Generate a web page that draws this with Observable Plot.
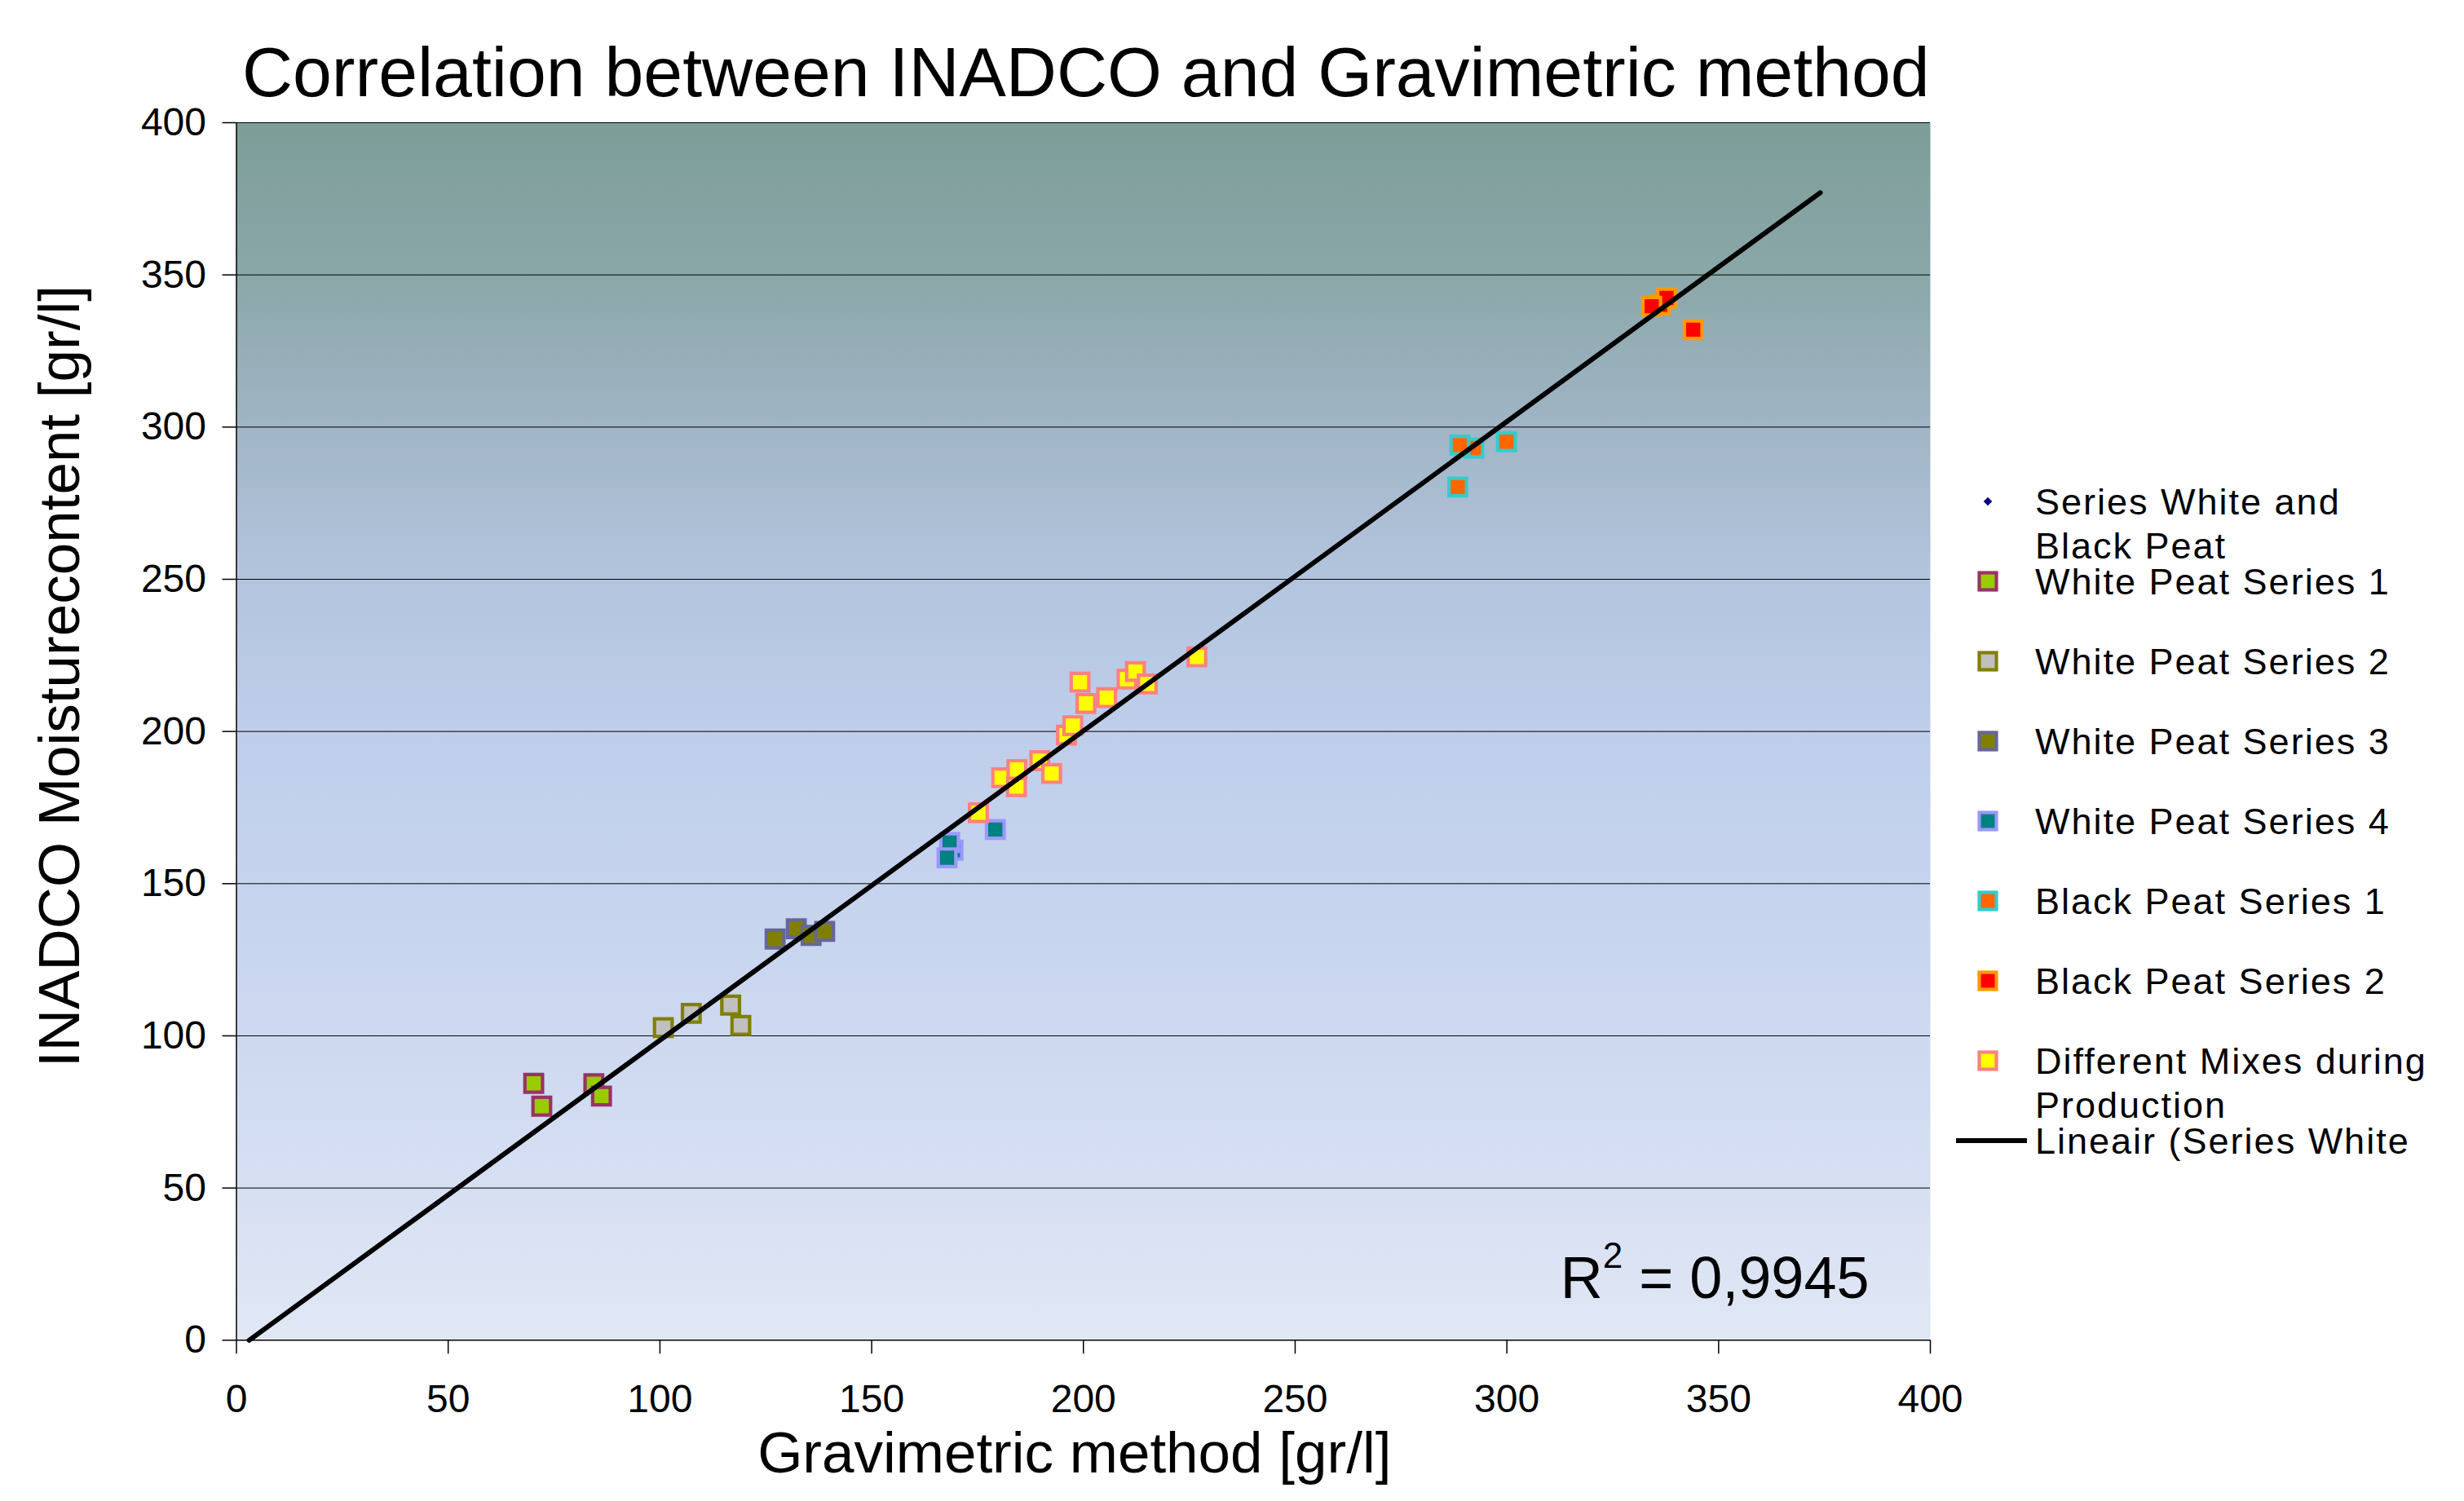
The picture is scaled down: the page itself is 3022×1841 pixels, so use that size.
<!DOCTYPE html>
<html>
<head>
<meta charset="utf-8">
<script src="https://cdn.jsdelivr.net/npm/d3@7"></script>
<script src="https://cdn.jsdelivr.net/npm/@observablehq/plot@0.6"></script>
<style>
  html, body { margin: 0; padding: 0; background: #fff; overflow: hidden; }
  #wrap { width: 3022px; height: 1841px; }
</style>
</head>
<body>
<div id="wrap"></div>
<script>
// ---------- data ----------
const wp1X = [70.2, 72.1, 84.4, 86.2];
const wp1Y = [84.4, 76.9, 84.3, 80.2];
const wp2X = [100.8, 107.4, 116.7, 119.1];
const wp2Y = [102.7, 107.4, 110.1, 103.4];
const wp3X = [127.2, 132.2, 135.7, 138.9];
const wp3Y = [131.8, 135.2, 133.0, 134.3];
const wp4X = [169.2, 168.4, 167.8, 179.2];
const wp4Y = [161.0, 163.5, 158.5, 167.8];
const bp1X = [292.2, 288.9, 299.9, 288.4];
const bp1Y = [293.1, 294.1, 295.2, 280.3];
const bp2X = [336.2, 337.7, 334.2, 344.0];
const bp2Y = [340.2, 342.4, 339.7, 332.0];
const mixX = [175.2, 180.7, 184.2, 184.3, 189.7, 192.5, 196.0, 197.5, 199.2, 200.6, 205.5, 210.3, 212.3, 215.1, 226.8];
const mixY = [173.3, 184.8, 181.9, 187.5, 190.4, 186.2, 198.8, 201.9, 216.2, 209.2, 211.1, 217.2, 219.7, 215.6, 224.5];
// linear trendline of "Series White and Black Peat" as drawn (end points)
const trendX = [3.0, 374.0];
const trendY = [0.0, 377.0];
const rSquared = "0,9945";

const xTicks = [0, 50, 100, 150, 200, 250, 300, 350, 400];
const yTicks = [0, 50, 100, 150, 200, 250, 300, 350, 400];

const seriesNames = [
  "White Peat Series 1", "White Peat Series 2", "White Peat Series 3", "White Peat Series 4",
  "Black Peat Series 1", "Black Peat Series 2", "Different Mixes during Production"
];
const combinedName = "Series White and Black Peat";

// ---------- styles ----------
const seriesStyle = [
  {fill: "#99CC00", stroke: "#993366"},
  {fill: "#C0C0C0", stroke: "#808000"},
  {fill: "#808000", stroke: "#666699"},
  {fill: "#008080", stroke: "#9999FF"},
  {fill: "#FF6600", stroke: "#33CCCC"},
  {fill: "#FF0000", stroke: "#FF9900"},
  {fill: "#FFFF00", stroke: "#FF8080"}
];

// ---------- tables ----------
const xsList = [wp1X, wp2X, wp3X, wp4X, bp1X, bp2X, mixX];
const ysList = [wp1Y, wp2Y, wp3Y, wp4Y, bp1Y, bp2Y, mixY];
const seriesData = xsList.map((xs, s) => xs.map((x, i) => ({series: seriesNames[s], x, y: ysList[s][i]})));
const combined = seriesData.flat().map(d => ({...d, series: combinedName}));
const trend = trendX.map((x, i) => ({x, y: trendY[i]}));

const W = 3022, H = 1841;
const pLeft = 289.5, pRight = 2367, pTop = 150, pBottom = 1643.3;
const FONT = "'Liberation Sans', Arial, Helvetica, sans-serif";

const marks = [
  Plot.frame({fill: "url(#bgGrad)", stroke: null}),
  Plot.ruleY(yTicks.filter(v => v > 0), {stroke: "#000", strokeWidth: 1}),
  Plot.dot(combined, {x: "x", y: "y", symbol: "diamond2", r: 3, fill: "#000080", stroke: null})
];
seriesData.forEach((data, s) => {
  marks.push(Plot.dot(data, {
    x: "x", y: "y", symbol: "square", r: 12.2,
    fill: seriesStyle[s].fill, stroke: seriesStyle[s].stroke, strokeWidth: 4.2
  }));
});
marks.push(
  Plot.line(trend, {x: "x", y: "y", stroke: "#000", strokeWidth: 6}),
  Plot.ruleX([0], {stroke: "#000", strokeWidth: 1.5}),
  Plot.ruleY([0], {stroke: "#000", strokeWidth: 1.5}),
  Plot.axisY({ticks: yTicks, tickSize: 17, tickPadding: 20, fontSize: 48, label: null, strokeWidth: 1.5}),
  Plot.axisX({ticks: xTicks, tickSize: 17, tickPadding: 37, fontSize: 48, label: null, strokeWidth: 1.5}),
  Plot.text(["Correlation between INADCO and Gravimetric method"], {
    frameAnchor: "top", dy: -33, dx: 3, lineAnchor: "bottom", fontSize: 86, fill: "#000"
  }),
  Plot.text(["Gravimetric method [gr/l]"], {
    frameAnchor: "bottom", dy: 162, dx: -11, lineAnchor: "bottom", fontSize: 71, fill: "#000"
  }),
  Plot.text(["INADCO Moisturecontent [gr/l]"], {
    frameAnchor: "left", textAnchor: "middle", dx: 96 - pLeft, dy: 829 - (pTop + pBottom) / 2, rotate: -90,
    lineAnchor: "bottom", fontSize: 71, fill: "#000"
  }),
  Plot.text(["R2 = " + rSquared], {
    frameAnchor: "bottom-right", dx: -75, dy: -(pBottom - 1591), textAnchor: "end",
    lineAnchor: "bottom", fontSize: 72, fill: "#000", className: "rsq"
  })
);

const chart = Plot.plot({
  width: W, height: H,
  marginLeft: pLeft, marginRight: W - pRight, marginTop: pTop, marginBottom: H - pBottom,
  x: {domain: [0, 400], axis: null},
  y: {domain: [0, 400], axis: null},
  style: {fontFamily: FONT, background: "#fff", color: "#000", overflow: "visible"},
  marks
});

const svg = d3.select(chart);

// R² with a real superscript
svg.selectAll("g.rsq text").each(function () {
  const t = d3.select(this);
  t.text(null);
  t.append("tspan").text("R");
  t.append("tspan").attr("font-size", 44).attr("dy", -37).text("2");
  t.append("tspan").attr("dy", 37).text(" = " + rSquared);
});

// background gradient of the plot area
const defs = svg.insert("defs", ":first-child");
const grad = defs.append("linearGradient").attr("id", "bgGrad")
  .attr("x1", 0).attr("y1", 0).attr("x2", 0).attr("y2", 1);
[
  [0.00, "#7C9D98"], [0.12, "#8AA7A8"], [0.25, "#A0B5C5"], [0.35, "#B0C2DA"],
  [0.48, "#BDCDE9"], [0.62, "#C5D3EE"], [0.80, "#D1DBF1"], [1.00, "#E0E7F5"]
].forEach(([o, c]) => grad.append("stop").attr("offset", o).attr("stop-color", c));

// legend (right side)
const legendLines = [
  ["Series White and", "Black Peat"],
  ["White Peat Series 1"], ["White Peat Series 2"], ["White Peat Series 3"], ["White Peat Series 4"],
  ["Black Peat Series 1"], ["Black Peat Series 2"],
  ["Different Mixes during", "Production"],
  ["Lineair (Series White"]
];
const lg = svg.append("g").attr("font-family", FONT).attr("font-size", 45)
  .attr("letter-spacing", 2).attr("text-anchor", "start");
const mx = 2438, tx = 2496, y0 = 615, step = 98, lineGap = 54;
legendLines.forEach((lines, i) => {
  const yc = y0 + i * step;
  if (i === 0) {
    lg.append("path").attr("d", d3.symbol(d3.symbolDiamond2, 70)()).attr("transform", `translate(${mx},${yc})`).attr("fill", "#000080");
  } else if (i === legendLines.length - 1) {
    lg.append("line").attr("x1", 2399).attr("x2", 2486).attr("y1", yc).attr("y2", yc).attr("stroke", "#000").attr("stroke-width", 6);
  } else {
    const st = seriesStyle[i - 1];
    lg.append("rect").attr("x", mx - 10.5).attr("y", yc - 10.5).attr("width", 21).attr("height", 21)
      .attr("fill", st.fill).attr("stroke", st.stroke).attr("stroke-width", 4.2);
  }
  lines.forEach((t, j) => {
    lg.append("text").attr("x", tx).attr("y", yc + j * lineGap + 16).attr("fill", "#000").text(t);
  });
});

document.getElementById("wrap").appendChild(chart);
</script>
</body>
</html>
